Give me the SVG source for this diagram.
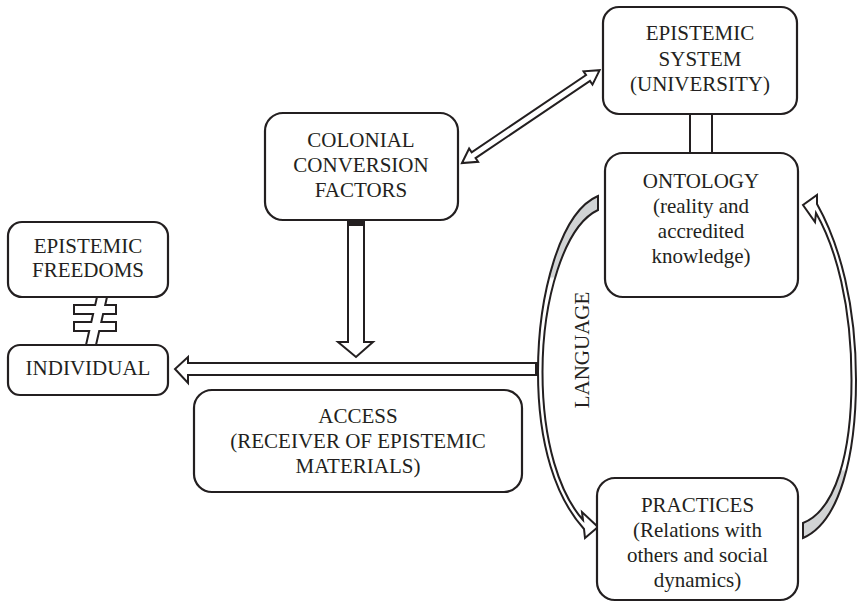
<svg xmlns="http://www.w3.org/2000/svg" width="859" height="603" viewBox="0 0 859 603">
<style>
.box{fill:#fff;stroke:#231f20;stroke-width:2.2}
.t{font-family:"Liberation Serif","Times New Roman",serif;font-size:21px;fill:#231f20;text-anchor:middle}
.ar{fill:#fff;stroke:#231f20;stroke-width:2;stroke-linejoin:miter}
</style>
<defs>
<linearGradient id="gL" gradientUnits="userSpaceOnUse" x1="0" y1="196" x2="0" y2="330">
<stop offset="0" stop-color="#d1d3d4"/><stop offset="0.6" stop-color="#d1d3d4"/><stop offset="0.62" stop-color="#fff"/><stop offset="1" stop-color="#fff"/>
</linearGradient>
<linearGradient id="gR" gradientUnits="userSpaceOnUse" x1="0" y1="400" x2="0" y2="538">
<stop offset="0" stop-color="#fff"/><stop offset="0.5" stop-color="#fff"/><stop offset="0.52" stop-color="#d1d3d4"/><stop offset="1" stop-color="#d1d3d4"/>
</linearGradient>
</defs>
<g id="connectors">
<polygon class="ar" points="538,363 188,363 188,357 175,369 188,383 188,375 538,375"/>
<rect x="535" y="362" width="4" height="14" fill="#231f20"/>
<polygon class="ar" points="348,220 364,220 364,342 373,342 356,357 338,342 348,342"/>
<rect x="348" y="220" width="16" height="6" fill="#231f20"/>
<polygon class="ar" transform="translate(462,163) rotate(-34)" points="0,0 14,-8 14,-3.5 152,-3.5 152,-8 166,0 152,8 152,3.5 14,3.5 14,8"/>
<rect class="ar" x="690" y="114" width="22" height="39"/>
<polygon class="ar" points="97,297 107,297 105.2,305 116,305 116,314 103.1,314 101.3,322 116,322 116,331 99.2,331 96,345 86,345 89.2,331 74,331 74,322 91.3,322 93.1,314 74,314 74,305 95.2,305"/>
<path id="curve-left" d="M598,196 C560,212 538,295 538,372 C538,445 556,498 584,529 L585,538 L598,527 L582,512 L583,520 C560,494 542.5,443 542.5,372 C542.5,300 564,226 598,210 Z" fill="url(#gL)" stroke="#231f20" stroke-width="2"/>
<path id="curve-right" d="M803,538 C840,522 856,455 856,380 C856,305 840,245 817,204 L817,195 L803,205 L815,222 L816,213 C836,248 851.5,305 851.5,380 C851.5,452 836,510 803,523 Z" fill="url(#gR)" stroke="#231f20" stroke-width="2"/>
<text class="t" transform="translate(589,350) rotate(-90)">LANGUAGE</text>
</g>
<g id="epistemic-system">
<rect class="box" x="603" y="7" width="194" height="107" rx="16"/>
<text class="t" x="700" y="40">EPISTEMIC</text>
<text class="t" x="700" y="65.5">SYSTEM</text>
<text class="t" x="700" y="91">(UNIVERSITY)</text>
</g>
<g id="ontology">
<rect class="box" x="605" y="153" width="193" height="144" rx="18"/>
<text class="t" x="701" y="188">ONTOLOGY</text>
<text class="t" x="701" y="213">(reality and</text>
<text class="t" x="701" y="238">accredited</text>
<text class="t" x="701" y="263">knowledge)</text>
</g>
<g id="colonial">
<rect class="box" x="265" y="113" width="193" height="107" rx="18"/>
<text class="t" x="361" y="147">COLONIAL</text>
<text class="t" x="361" y="172">CONVERSION</text>
<text class="t" x="361" y="197">FACTORS</text>
</g>
<g id="epistemic-freedoms">
<rect class="box" x="8" y="222" width="160" height="75" rx="14"/>
<text class="t" x="88" y="253">EPISTEMIC</text>
<text class="t" x="88" y="277">FREEDOMS</text>
</g>
<g id="individual">
<rect class="box" x="8" y="345" width="160" height="50" rx="12"/>
<text class="t" x="88" y="375">INDIVIDUAL</text>
</g>
<g id="access">
<rect class="box" x="194" y="390" width="328" height="102" rx="18"/>
<text class="t" x="358" y="423">ACCESS</text>
<text class="t" x="358" y="448">(RECEIVER OF EPISTEMIC</text>
<text class="t" x="358" y="473">MATERIALS)</text>
</g>
<g id="practices">
<rect class="box" x="597" y="478" width="201" height="122" rx="18"/>
<text class="t" x="697.5" y="512">PRACTICES</text>
<text class="t" x="697.5" y="537">(Relations with</text>
<text class="t" x="697.5" y="562">others and social</text>
<text class="t" x="697.5" y="587">dynamics)</text>
</g>
</svg>
